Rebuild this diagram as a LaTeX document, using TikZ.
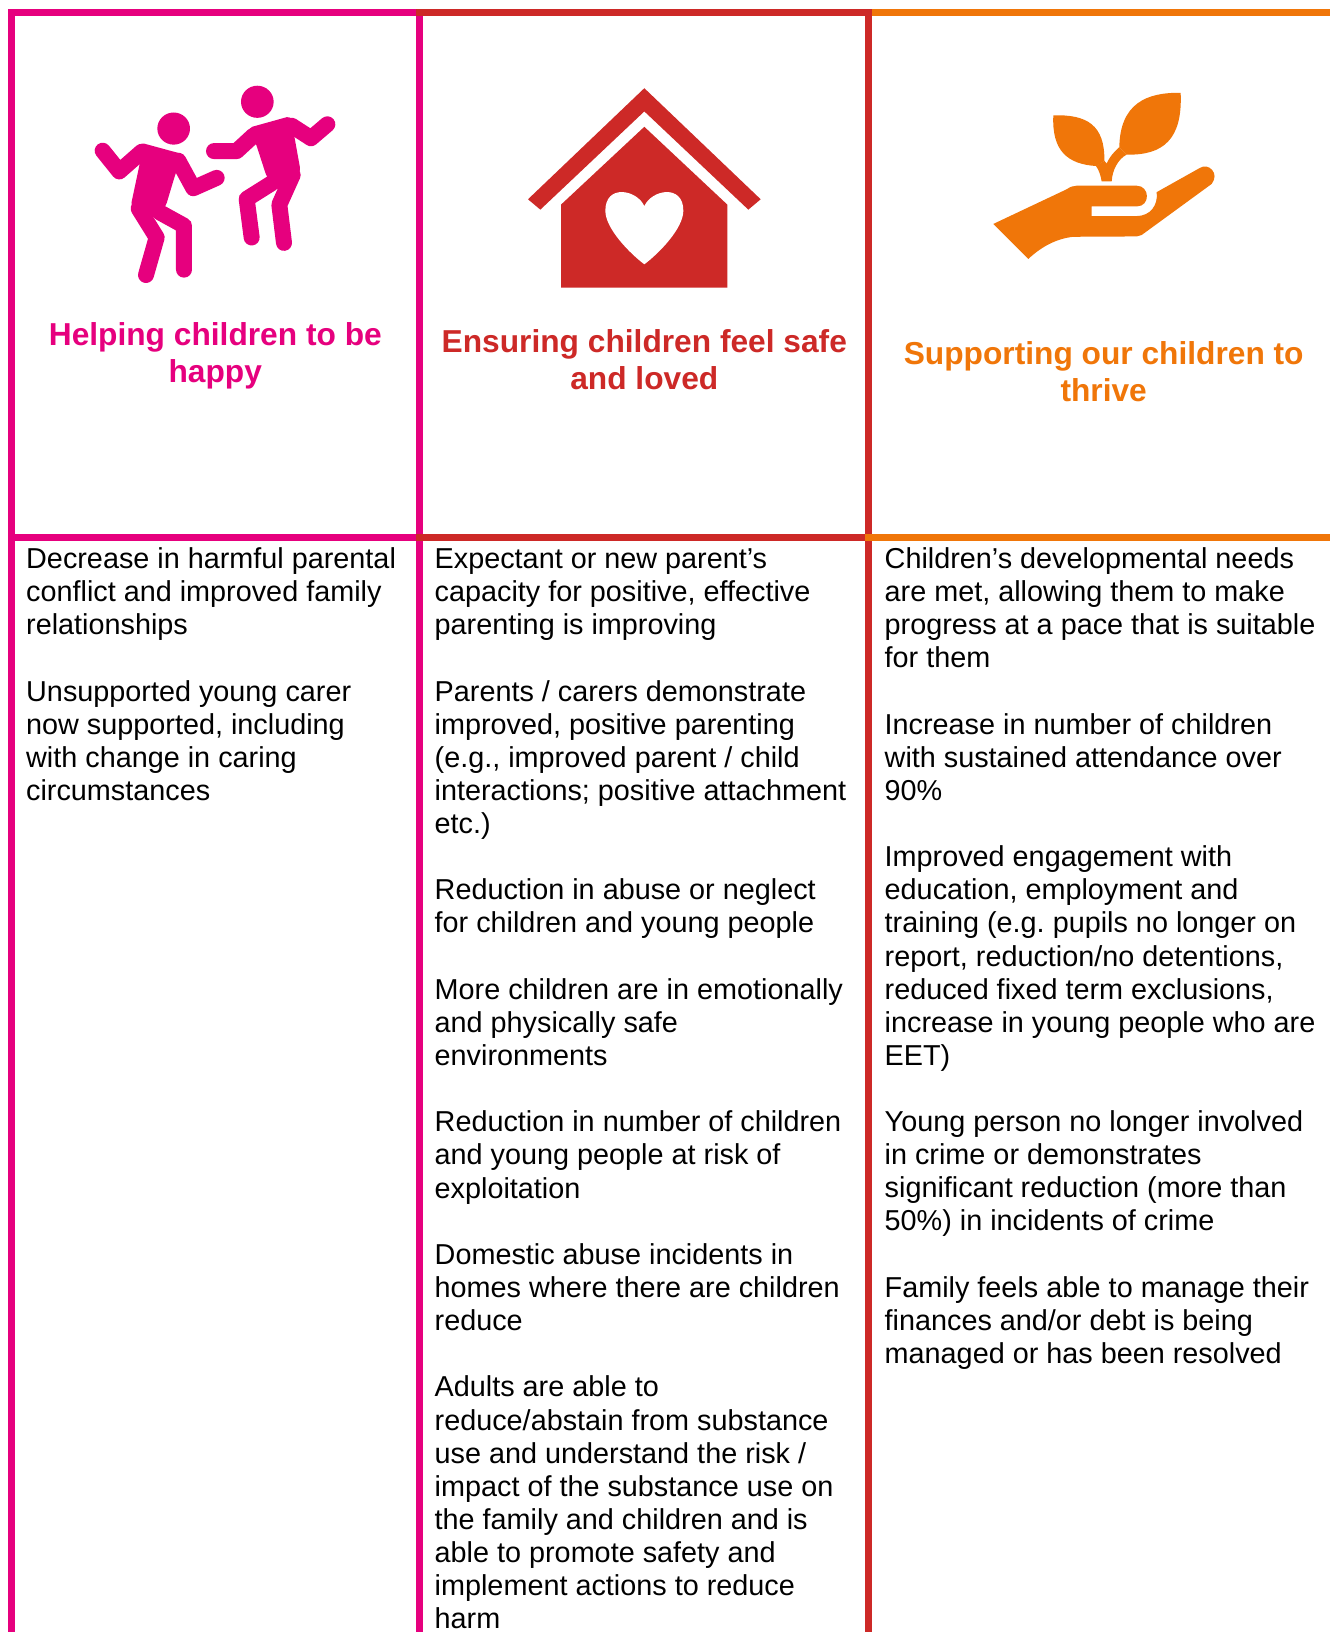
\documentclass[tikz,border=0pt]{standalone}
\usepackage{fontspec}
\setmainfont{Liberation Sans}
\definecolor{cpink}{HTML}{E6007E}
\definecolor{cred}{HTML}{CD2927}
\definecolor{corange}{HTML}{F07609}
\tikzset{
  icon/.style={x=0.33333pt,y=-0.35714pt},
  limb/.style={line width=16pt,line cap=round,line join=round},
  bodytext/.style={anchor=north west,inner sep=0pt,align=left,text=black,font=\fontsize{28.8}{33.1}\selectfont\frenchspacing},
  headtext/.style={anchor=north,inner sep=0pt,align=center,font=\bfseries\fontsize{31.7}{37.6}\selectfont}
}
\newcommand{\gap}{\\[0.15pt] \mbox{}\\}
\newcommand{\firstline}{\rule{0pt}{24pt}}
\begin{document}
\begin{tikzpicture}[x=1pt,y=-1pt]
\clip (0,0) rectangle (1330,1632);
\fill[white] (0,0) rectangle (1330,1632);
% rules
\fill[cpink] (8,9) rectangle (15,1632);
\fill[cpink] (416,9) rectangle (423,1632);
\fill[cpink] (8,9) rectangle (416,16);
\fill[cpink] (8,534) rectangle (416,541);
\fill[cred] (865,9) rectangle (872,1632);
\fill[cred] (416,9) rectangle (872,16);
\fill[cred] (416,534) rectangle (865,541);
\fill[corange] (872,9) rectangle (1330,16);
\fill[corange] (865,534) rectangle (1330,541);
% dancers
\begin{scope}[icon,cpink]
\fill (521,360) ellipse [x radius=49,y radius=45];
\fill (772,285) ellipse [x radius=49,y radius=45];
\draw[limb] (308,422) -- (358,480) -- (425,425);
\draw[limb] (535,450) -- (580,527) -- (650,498);
\fill[rounded corners=4pt] (420,399) -- (550,432) -- (527,485) -- (497,578) -- (465,612) -- (392,578) -- (420,455) -- cycle;
\draw[limb] (552,755) -- (552,632) -- (480,595);
\draw[limb] (438,770) -- (470,665) -- (416,584);
\draw[limb] (642,423) -- (710,423) -- (760,380);
\draw[limb] (875,352) -- (933,387) -- (982,348);
\fill[rounded corners=4pt] (745,358) -- (872,325) -- (902,480) -- (880,505) -- (832,533) -- (800,495) -- (767,400) -- cycle;
\draw[limb] (755,665) -- (740,557) -- (815,513);
\draw[limb] (852,680) -- (838,573) -- (878,490);
\end{scope}
% house
\begin{scope}[xshift=420pt,icon]
\fill[cred] (673,247) -- (1022,558) -- (985,587) -- (673,312) -- (361,587) -- (324,558) -- cycle;
\fill[cred] (673,355) -- (922,573) -- (922,805) -- (423,805) -- (423,573) -- cycle;
\fill[white] (673,577) .. controls (650,530) and (556,515) .. (556,590) .. controls (556,640) and (630,710) .. (673,740) .. controls (716,710) and (790,640) .. (790,590) .. controls (790,515) and (696,530) .. (673,577) -- cycle;
\end{scope}
% hand and plant
\begin{scope}[xshift=860pt,icon,corange]
\fill (580,323) .. controls (680,320) and (735,350) .. (733,450) -- (710,465) .. controls (620,460) and (575,420) .. (580,323) -- cycle;
\fill (962,260) .. controls (860,258) and (780,290) .. (778,412) -- (800,433) .. controls (910,435) and (968,390) .. (962,260) -- cycle;
\fill (725,508) .. controls (722,490) and (716,475) .. (708,465) -- (733,450) -- (740,458) .. controls (748,440) and (762,425) .. (778,412) -- (800,433) .. controls (775,445) and (757,475) .. (755,508) -- cycle;
\fill (400,627) -- (620,530) .. controls (630,523) and (640,520) .. (650,520) -- (830,520) .. controls (870,520) and (872,578) .. (830,578) -- (695,578) -- (695,605) -- (830,605) .. controls (870,605) and (895,575) .. (890,538) -- (1020,470) .. controls (1045,455) and (1080,485) .. (1055,515) -- (845,658) .. controls (840,661) and (838,662) .. (830,662) -- (640,663) .. controls (590,668) and (545,690) .. (505,725) -- cycle;
\end{scope}
% headings
\node[headtext,text=cpink] (h1) at (215.3,322) {Helping children to be\\happy};
\node[headtext,text=cred] (h2) at (644.3,329) {Ensuring children feel safe\\and loved};
\node[headtext,text=corange] (h3) at (1103.7,341) {Supporting our children to\\thrive};
% bodies
\node[bodytext] (b1) at (26,544.3) {\firstline Decrease in harmful parental\\conflict and improved family\\relationships\gap
Unsupported young carer\\now supported, including\\with change in caring\\circumstances};
\node[bodytext] (b2) at (434.5,544.3) {\firstline Expectant or new parent’s\\capacity for positive, effective\\parenting is improving\gap
Parents / carers demonstrate\\improved, positive parenting\\(e.g., improved parent / child\\interactions; positive attachment\\etc.)\gap
Reduction in abuse or neglect\\for children and young people\gap
More children are in emotionally\\and physically safe\\environments\gap
Reduction in number of children\\and young people at risk of\\exploitation\gap
Domestic abuse incidents in\\homes where there are children\\reduce\gap
Adults are able to\\reduce/abstain from substance\\use and understand the risk /\\impact of the substance use on\\the family and children and is\\able to promote safety and\\implement actions to reduce\\harm};
\node[bodytext] (b3) at (884.5,544.3) {\firstline Children’s developmental needs\\are met, allowing them to make\\progress at a pace that is suitable\\for them\gap
Increase in number of children\\with sustained attendance over\\90\%\gap
Improved engagement with\\education, employment and\\training (e.g. pupils no longer on\\report, reduction/no detentions,\\reduced fixed term exclusions,\\increase in young people who are\\EET)\gap
Young person no longer involved\\in crime or demonstrates\\significant reduction (more than\\50\%) in incidents of crime\gap
Family feels able to manage their\\finances and/or debt is being\\managed or has been resolved};
\end{tikzpicture}
\end{document}
